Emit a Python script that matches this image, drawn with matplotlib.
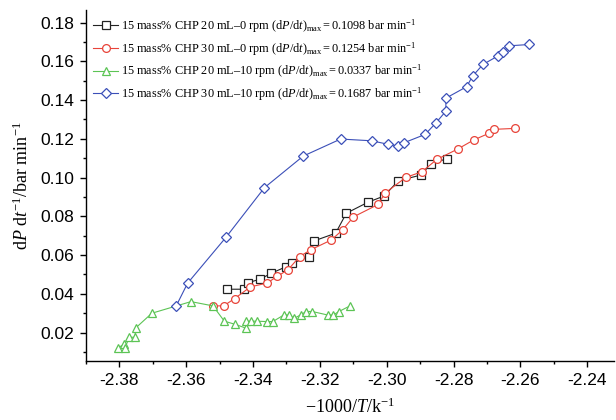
import numpy as np
import matplotlib
matplotlib.use("Agg")
import matplotlib.pyplot as plt
from matplotlib.ticker import MultipleLocator

# data (x = -1000/T, y = dP/dt)
x_20_0 = [-2.3478, -2.3428, -2.3415, -2.3380, -2.3346, -2.3300, -2.3283, -2.3232, -2.3218,
          -2.3153, -2.3121, -2.3056, -2.3008, -2.2965, -2.2898, -2.2868, -2.2820]
y_20_0 = [0.0424, 0.0424, 0.0458, 0.0475, 0.0506, 0.0541, 0.0558, 0.0592, 0.0673,
          0.0713, 0.0816, 0.0873, 0.0905, 0.0984, 0.1013, 0.1070, 0.1098]

x_30_0 = [-2.3520, -2.3488, -2.3455, -2.3408, -2.3358, -2.3327, -2.3295, -2.3261, -2.3228,
          -2.3166, -2.3132, -2.3100, -2.3025, -2.3006, -2.2943, -2.2895, -2.2850, -2.2788,
          -2.2740, -2.2695, -2.2680, -2.2615]
y_30_0 = [0.0338, 0.0338, 0.0376, 0.0436, 0.0456, 0.0491, 0.0525, 0.0592, 0.0627,
          0.0678, 0.0730, 0.0797, 0.0862, 0.0919, 0.1001, 0.1030, 0.1094, 0.1147,
          0.1194, 0.1228, 0.1249, 0.1254]

x_20_10 = [-2.3803, -2.3786, -2.3784, -2.3770, -2.3754, -2.3750, -2.3703, -2.3586, -2.3520,
           -2.3486, -2.3454, -2.3421, -2.3421, -2.3405, -2.3389, -2.3358, -2.3341, -2.3308,
           -2.3293, -2.3277, -2.3258, -2.3241, -2.3223, -2.3177, -2.3160, -2.3143, -2.3111]
y_20_10 = [0.0123, 0.0140, 0.0120, 0.0176, 0.0176, 0.0226, 0.0300, 0.0360, 0.0338,
           0.0259, 0.0243, 0.0223, 0.0259, 0.0259, 0.0259, 0.0257, 0.0257, 0.0291,
           0.0291, 0.0274, 0.0291, 0.0309, 0.0309, 0.0291, 0.0291, 0.0309, 0.0337]

x_30_10 = [-2.3630, -2.3596, -2.3481, -2.3366, -2.3250, -2.3138, -2.3045, -2.2996, -2.2965,
           -2.2948, -2.2885, -2.2854, -2.2823, -2.2823, -2.2761, -2.2743, -2.2712, -2.2666,
           -2.2651, -2.2635, -2.2573]
y_30_10 = [0.0338, 0.0455, 0.0692, 0.0948, 0.1111, 0.1199, 0.1190, 0.1172, 0.1163,
           0.1180, 0.1223, 0.1280, 0.1343, 0.1410, 0.1469, 0.1524, 0.1584, 0.1629,
           0.1646, 0.1680, 0.1687]

labels = [
    "15 mass% CHP 20 mL\u20130 rpm (d$P$/d$t$)$_{\\mathrm{max}}$$\\,$=$\\,$0.1098 bar min$^{-1}$",
    "15 mass% CHP 30 mL\u20130 rpm (d$P$/d$t$)$_{\\mathrm{max}}$$\\,$=$\\,$0.1254 bar min$^{-1}$",
    "15 mass% CHP 20 mL\u201310 rpm (d$P$/d$t$)$_{\\mathrm{max}}$$\\,$=$\\,$0.0337 bar min$^{-1}$",
    "15 mass% CHP 30 mL\u201310 rpm (d$P$/d$t$)$_{\\mathrm{max}}$$\\,$=$\\,$0.1687 bar min$^{-1}$",
]

plt.rcParams['mathtext.fontset'] = 'custom'
plt.rcParams['mathtext.rm'] = 'Liberation Serif'
plt.rcParams['mathtext.it'] = 'Liberation Serif:italic'
plt.rcParams['mathtext.bf'] = 'Liberation Serif:bold'

fig = plt.figure(figsize=(6.16, 4.20), dpi=100)
ax = fig.add_axes([0.1396, 0.1393, 0.8571, 0.8369])

series = [
    (x_20_0, y_20_0, 's', '#222222'),
    (x_30_0, y_30_0, 'o', '#e8443a'),
    (x_20_10, y_20_10, '^', '#5cc455'),
    (x_30_10, y_30_10, 'D', '#3b4fb8'),
]
sizes = {'s': 5.2, 'o': 5.6, '^': 5.6, 'D': 5.0}
for (xs, ys, m, c), lab in zip(series, labels):
    ax.plot(xs, ys, marker=m, color=c, lw=0.8, ms=sizes[m], mfc='white',
            mec=c, mew=0.9, label=lab)

ax.set_xlim(-2.39, -2.232)
ax.set_ylim(0.0051, 0.1865)
ax.xaxis.set_major_locator(MultipleLocator(0.02))
ax.xaxis.set_minor_locator(MultipleLocator(0.01))
ax.yaxis.set_major_locator(MultipleLocator(0.02))
ax.yaxis.set_minor_locator(MultipleLocator(0.01))
ax.xaxis.set_major_formatter(matplotlib.ticker.FormatStrFormatter('%.2f'))
ax.yaxis.set_major_formatter(matplotlib.ticker.FormatStrFormatter('%.2f'))

for s in ['top', 'right']:
    ax.spines[s].set_visible(False)
for s in ['left', 'bottom']:
    ax.spines[s].set_linewidth(1.0)
ax.tick_params(which='major', direction='out', length=4.5, width=1.0,
               labelsize=12.5, pad=4)
ax.tick_params(which='minor', direction='out', length=2.5, width=1.0)
for t in ax.get_xticklabels() + ax.get_yticklabels():
    t.set_family('Liberation Sans')

ax.set_xlabel("\u22121000/$T$/k$^{-1}$", family='Liberation Serif', fontsize=13, labelpad=7)
ax.set_ylabel("d$P$ d$t^{-1}$/bar min$^{-1}$", family='Liberation Serif', fontsize=13, labelpad=6)

leg = ax.legend(loc='upper left', bbox_to_anchor=(0.0, 1.0), frameon=False,
                prop={'family': 'Liberation Serif', 'size': 8.8},
                handlelength=2.0, handletextpad=0.3, labelspacing=0.42,
                borderaxespad=0.2)

fig.savefig("out.png", dpi=100)
